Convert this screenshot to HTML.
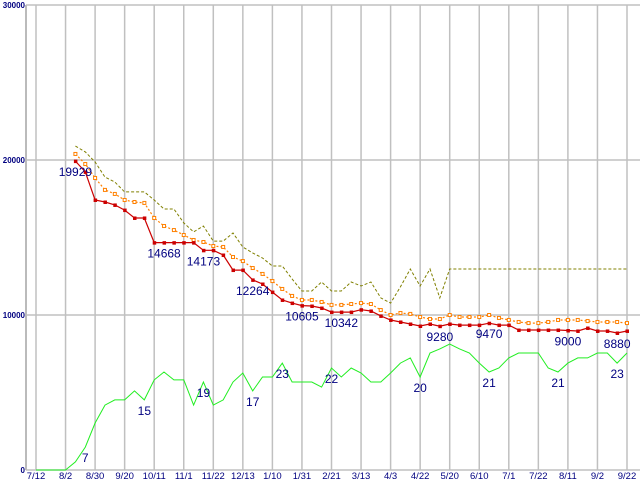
<!DOCTYPE html>
<html><head><meta charset="utf-8"><style>
html,body{margin:0;padding:0;background:#fff;width:640px;height:480px;overflow:hidden}
svg{display:block}
text{font-family:"Liberation Sans",sans-serif}
</style></head><body>
<svg id="chart" width="640" height="480" xmlns="http://www.w3.org/2000/svg"></svg>
<script>
const xLabels=["7/12","8/2","8/30","9/20","10/11","11/1","11/22","12/13","1/10","1/31","2/21","3/13","4/3","4/22","5/20","6/10","7/1","7/22","8/11","9/2","9/22"];
const yTicks=[0,10000,20000,30000];
const redVals=[null,null,null,null,19929,19230,17420,17290,17100,16770,16260,16260,14668,14668,14668,14668,14668,14173,14173,13870,12900,12900,12264,12000,11480,10970,10770,10605,10580,10450,10190,10190,10190,10342,10260,9940,9680,9550,9420,9290,9420,9280,9420,9350,9350,9350,9470,9350,9350,9030,9030,9030,9030,9030,9000,8970,9160,8970,8970,8840,8970];
const orangeVals=[null,null,null,null,20390,19740,18840,18070,17810,17420,17290,17230,16260,15740,15480,15160,14840,14710,14450,14390,13740,13480,13030,12650,12190,11680,11230,10970,10970,10840,10650,10650,10710,10770,10710,10320,10000,10130,10070,9870,9740,9740,10000,9870,9870,9870,10000,9810,9680,9550,9480,9480,9550,9680,9680,9680,9610,9550,9550,9550,9480];
const oliveVals=[null,null,null,null,20900,20520,19870,18900,18580,17940,17940,17940,17420,16840,16840,15940,15360,15740,14770,14770,15290,14390,14000,13680,13160,13160,12320,11550,11550,12130,11550,11550,12130,11870,12130,11100,10770,11810,12970,11870,12970,11100,12970,12970,12970,12970,12970,12970,12970,12970,12970,12970,12970,12970,12970,12970,12970,12970,12970,12970,12970];
const greenVals=[0,0,0,0,520,1480,3030,4190,4520,4520,5100,4520,5810,6320,5810,5810,4190,5680,4190,4520,5680,6260,5100,6000,6000,6900,5680,5680,5680,5350,6580,6000,6580,6260,5680,5680,6260,6900,7230,6000,7550,7810,8130,7810,7550,6900,6320,6580,7230,7550,7550,7550,6580,6320,6900,7230,7230,7550,7550,6900,7550];
const redLabelIdx=[4,13,17,22,27,31,41,46,54,59];
const redLabelText=["19929","14668","14173","12264","10605","10342","9280","9470","9000","8880"];
const greenLabelIdx=[5,11,17,22,25,30,39,46,53,59];
const greenLabelText=["7","15","19","17","23","22","20","21","21","23"];

const NS="http://www.w3.org/2000/svg";
const svg=document.getElementById('chart');
const x=i=>36+i*9.85;
const y=v=>470-v*0.0155;
function mk(tag,attrs,parent){const e=document.createElementNS(NS,tag);for(const k in attrs)e.setAttribute(k,attrs[k]);(parent||svg).appendChild(e);return e;}

const grid=mk('g',{});


mk('line',{x1:26,y1:5,x2:26,y2:470,stroke:'#bbb','stroke-width':2},grid);
xLabels.forEach((l,k)=>{
  const gx=x(k*3);
  const ln=mk('line',{x1:gx,y1:5,x2:gx,y2:470,stroke:'#c0c0c0','stroke-width':1.5},grid);
  
  
  const t=mk('text',{x:gx,y:479,'text-anchor':'middle','font-size':9.5,fill:'#000080'});
  t.textContent=l;
  
  
});
yTicks.forEach(v=>{
  const gy=y(v);
  const ln=mk('line',{x1:26,y1:gy,x2:640,y2:gy,stroke:'#c0c0c0','stroke-width':1.5},grid);
  
  
  const t=mk('text',{x:25,y:gy+3,'text-anchor':'end','font-size':8,'font-weight':'bold',fill:'#000080'});
  t.textContent=String(v);
  
  
});

function pts(vals){const p=[];vals.forEach((v,i)=>{if(v!==null)p.push(x(i).toFixed(1)+','+y(v).toFixed(1));});return p.join(' ');}

const g1=mk('polyline',{points:pts(greenVals),fill:'none',stroke:'#22ee22','stroke-width':1});



const o1=mk('polyline',{points:pts(oliveVals),fill:'none',stroke:'#808000','stroke-width':1,'stroke-dasharray':'3,2'});



const or1=mk('polyline',{points:pts(orangeVals),fill:'none',stroke:'#ff8000','stroke-width':1.2,'stroke-dasharray':'2,2'});


orangeVals.forEach((v,i)=>{if(v===null)return;
  const r=mk('rect',{x:x(i)-1.5,y:y(v)-1.5,width:3,height:3,fill:'#fff',stroke:'#ff8000','stroke-width':1});
  
  
});

const r1=mk('polyline',{points:pts(redVals),fill:'none',stroke:'#cc0000','stroke-width':1.2});


redVals.forEach((v,i)=>{if(v===null)return;
  const r=mk('rect',{x:x(i)-1.5,y:y(v)-1.5,width:3.5,height:3.5,fill:'#cc0000'});
  
  
});

redLabelIdx.forEach((i,k)=>{
  const t=mk('text',{x:x(i),y:y(redVals[i])+15,'text-anchor':'middle','font-size':12,fill:'#000080'});
  t.textContent=redLabelText[k];
  
  
});
greenLabelIdx.forEach((i,k)=>{
  const t=mk('text',{x:x(i),y:y(greenVals[i])+15,'text-anchor':'middle','font-size':12,fill:'#000080'});
  t.textContent=greenLabelText[k];
  
  
});
</script>
</body></html>
